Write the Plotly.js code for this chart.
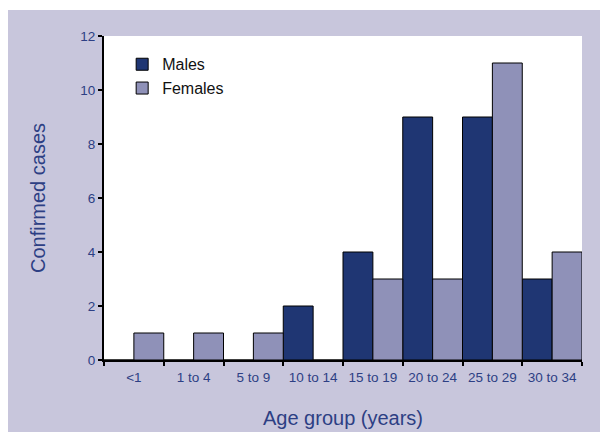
<!DOCTYPE html>
<html>
<head>
<meta charset="utf-8">
<script src="https://cdn.plot.ly/plotly-3.0.1.min.js"></script>
<style>
html,body{margin:0;padding:0;background:#ffffff;}
#bg{position:absolute;left:8px;top:10px;width:592px;height:422px;background:#c8c6dc;}
#chart{position:absolute;left:0;top:0;width:600px;height:432px;}
</style>
</head>
<body>
<div id="bg"></div>
<div id="chart"></div>
<script>
const ageGroups = ['<1', '1 to 4', '5 to 9', '10 to 14', '15 to 19', '20 to 24', '25 to 29', '30 to 34'];
const males = [0, 0, 0, 2, 4, 9, 9, 3];
const females = [1, 1, 1, 0, 3, 3, 11, 4];

const blue = '#2d3f84';
const font = 'Arial';

const traces = [
  {type: 'bar', name: 'Males', x: ageGroups, y: males,
   marker: {color: '#1f3673', line: {color: '#000000', width: 1}}},
  {type: 'bar', name: 'Females', x: ageGroups, y: females,
   marker: {color: '#8f91b8', line: {color: '#000000', width: 1}}}
];

const layout = {
  width: 600, height: 432,
  margin: {l: 104, r: 18, t: 36, b: 72, pad: 0},
  paper_bgcolor: 'rgba(0,0,0,0)',
  plot_bgcolor: '#ffffff',
  barmode: 'group', bargap: 0, bargroupgap: 0,
  font: {family: font, color: blue},
  showlegend: true,
  legend: {x: 0.038, y: 0.965, xanchor: 'left', yanchor: 'top',
           bgcolor: 'rgba(0,0,0,0)', font: {size: 16, color: '#111111', family: font},
           tracegroupgap: 0},
  xaxis: {
    type: 'category', tickson: 'boundaries',
    ticks: 'outside', ticklen: 4, tickwidth: 2, tickcolor: '#000000',
    showline: true, linecolor: '#000000', linewidth: 2,
    showgrid: false, zeroline: false,
    ticklabelstandoff: 4,
    tickfont: {size: 13.5, color: blue, family: font},
    title: {text: 'Age group (years)', font: {size: 20, color: blue, family: font}, standoff: 27},
    automargin: false
  },
  yaxis: {
    range: [0, 12], dtick: 2,
    ticks: 'outside', ticklen: 4, tickwidth: 2, tickcolor: '#000000',
    showline: true, linecolor: '#000000', linewidth: 2,
    showgrid: false, zeroline: false,
    tickfont: {size: 13.5, color: blue, family: font},
    title: {text: 'Confirmed cases', font: {size: 20, color: blue, family: font}, standoff: 29},
    automargin: false
  }
};

Plotly.newPlot('chart', traces, layout, {displayModeBar: false, staticPlot: true});
</script>
</body>
</html>
